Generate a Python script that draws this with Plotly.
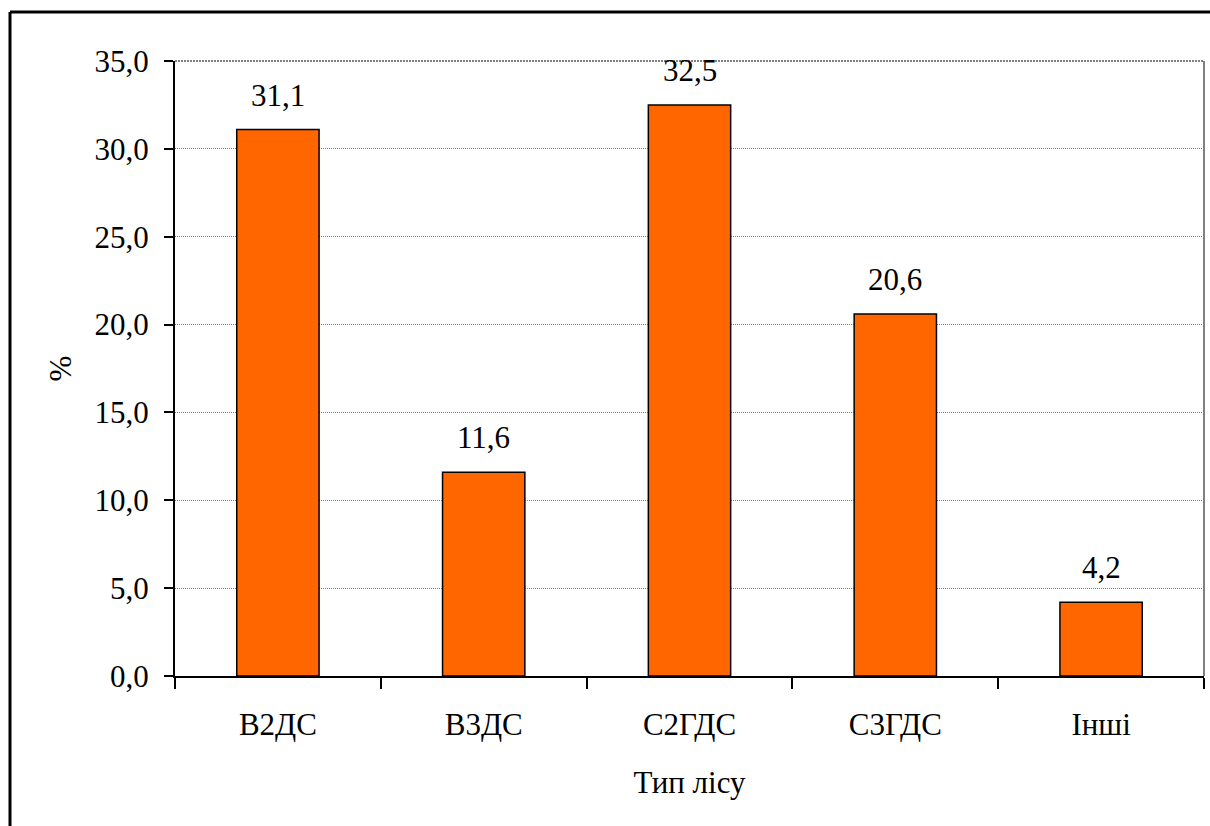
import plotly.graph_objects as go

# Forest type shares, percent
categories = ["В2ДС", "В3ДС", "С2ГДС", "С3ГДС", "Інші"]
shares = [31.1, 11.6, 32.5, 20.6, 4.2]
y_ticks = [0, 5, 10, 15, 20, 25, 30, 35]

FONT = "Liberation Serif, Times New Roman, serif"
FS = 31

W, H = 1210, 826
L, R, T, B = 175, 6, 61, 150
pw, ph = W - L - R, H - T - B

fig = go.Figure()
fig.add_trace(go.Bar(
    x=categories,
    y=shares,
    marker=dict(color="#FF6600", line=dict(color="black", width=1.5)),
    width=0.4,
    hoverinfo="skip",
))

# value labels above each bar
for c, v in zip(categories, shares):
    fig.add_annotation(
        x=c, y=v, xref="x", yref="y",
        text=f"{v:.1f}".replace(".", ","),
        showarrow=False, yanchor="bottom", yshift=15,
        font=dict(family=FONT, size=FS, color="black"),
    )

# outer frame of the chart (top and left edges)
fx = (10 - L) / pw
fy = (H - B - 12) / ph
fig.add_shape(type="line", xref="paper", yref="paper",
              x0=fx, x1=1.2, y0=fy, y1=fy,
              line=dict(color="black", width=3))
fig.add_shape(type="line", xref="paper", yref="paper",
              x0=fx, x1=fx, y0=fy, y1=-0.5,
              line=dict(color="black", width=3))
# top and right borders of the plotting area
fig.add_shape(type="line", xref="paper", yref="paper",
              x0=0, x1=1, y0=1, y1=1,
              line=dict(color="#808080", width=2, dash="2px,1px"))
fig.add_shape(type="line", xref="paper", yref="paper",
              x0=1, x1=1, y0=0, y1=1,
              line=dict(color="#808080", width=2))

fig.update_layout(
    width=W, height=H,
    margin=dict(l=L, r=R, t=T, b=B),
    paper_bgcolor="white", plot_bgcolor="white",
    separators=", ",
    showlegend=False,
    font=dict(family=FONT, size=FS, color="black"),
)
fig.update_xaxes(
    showline=True, linecolor="black", linewidth=2,
    ticks="outside", ticklen=11, tickwidth=2, tickcolor="black",
    tickson="boundaries",
    tickfont=dict(family=FONT, size=FS),
    ticklabelstandoff=20,
    title=dict(text="Тип лісу", font=dict(family=FONT, size=FS), standoff=30),
    showgrid=False,
)
fig.update_yaxes(
    range=[0, 35], tickvals=y_ticks, tickformat=".1f",
    showline=True, linecolor="black", linewidth=2,
    ticks="outside", ticklen=9, tickwidth=2, tickcolor="black",
    tickfont=dict(family=FONT, size=FS),
    ticklabelstandoff=9,
    showgrid=True, gridcolor="#808080", gridwidth=1, griddash="1px,1px",
    zeroline=False,
    title=dict(text="%", font=dict(family=FONT, size=FS), standoff=14),
)

fig.write_html("out.html")
